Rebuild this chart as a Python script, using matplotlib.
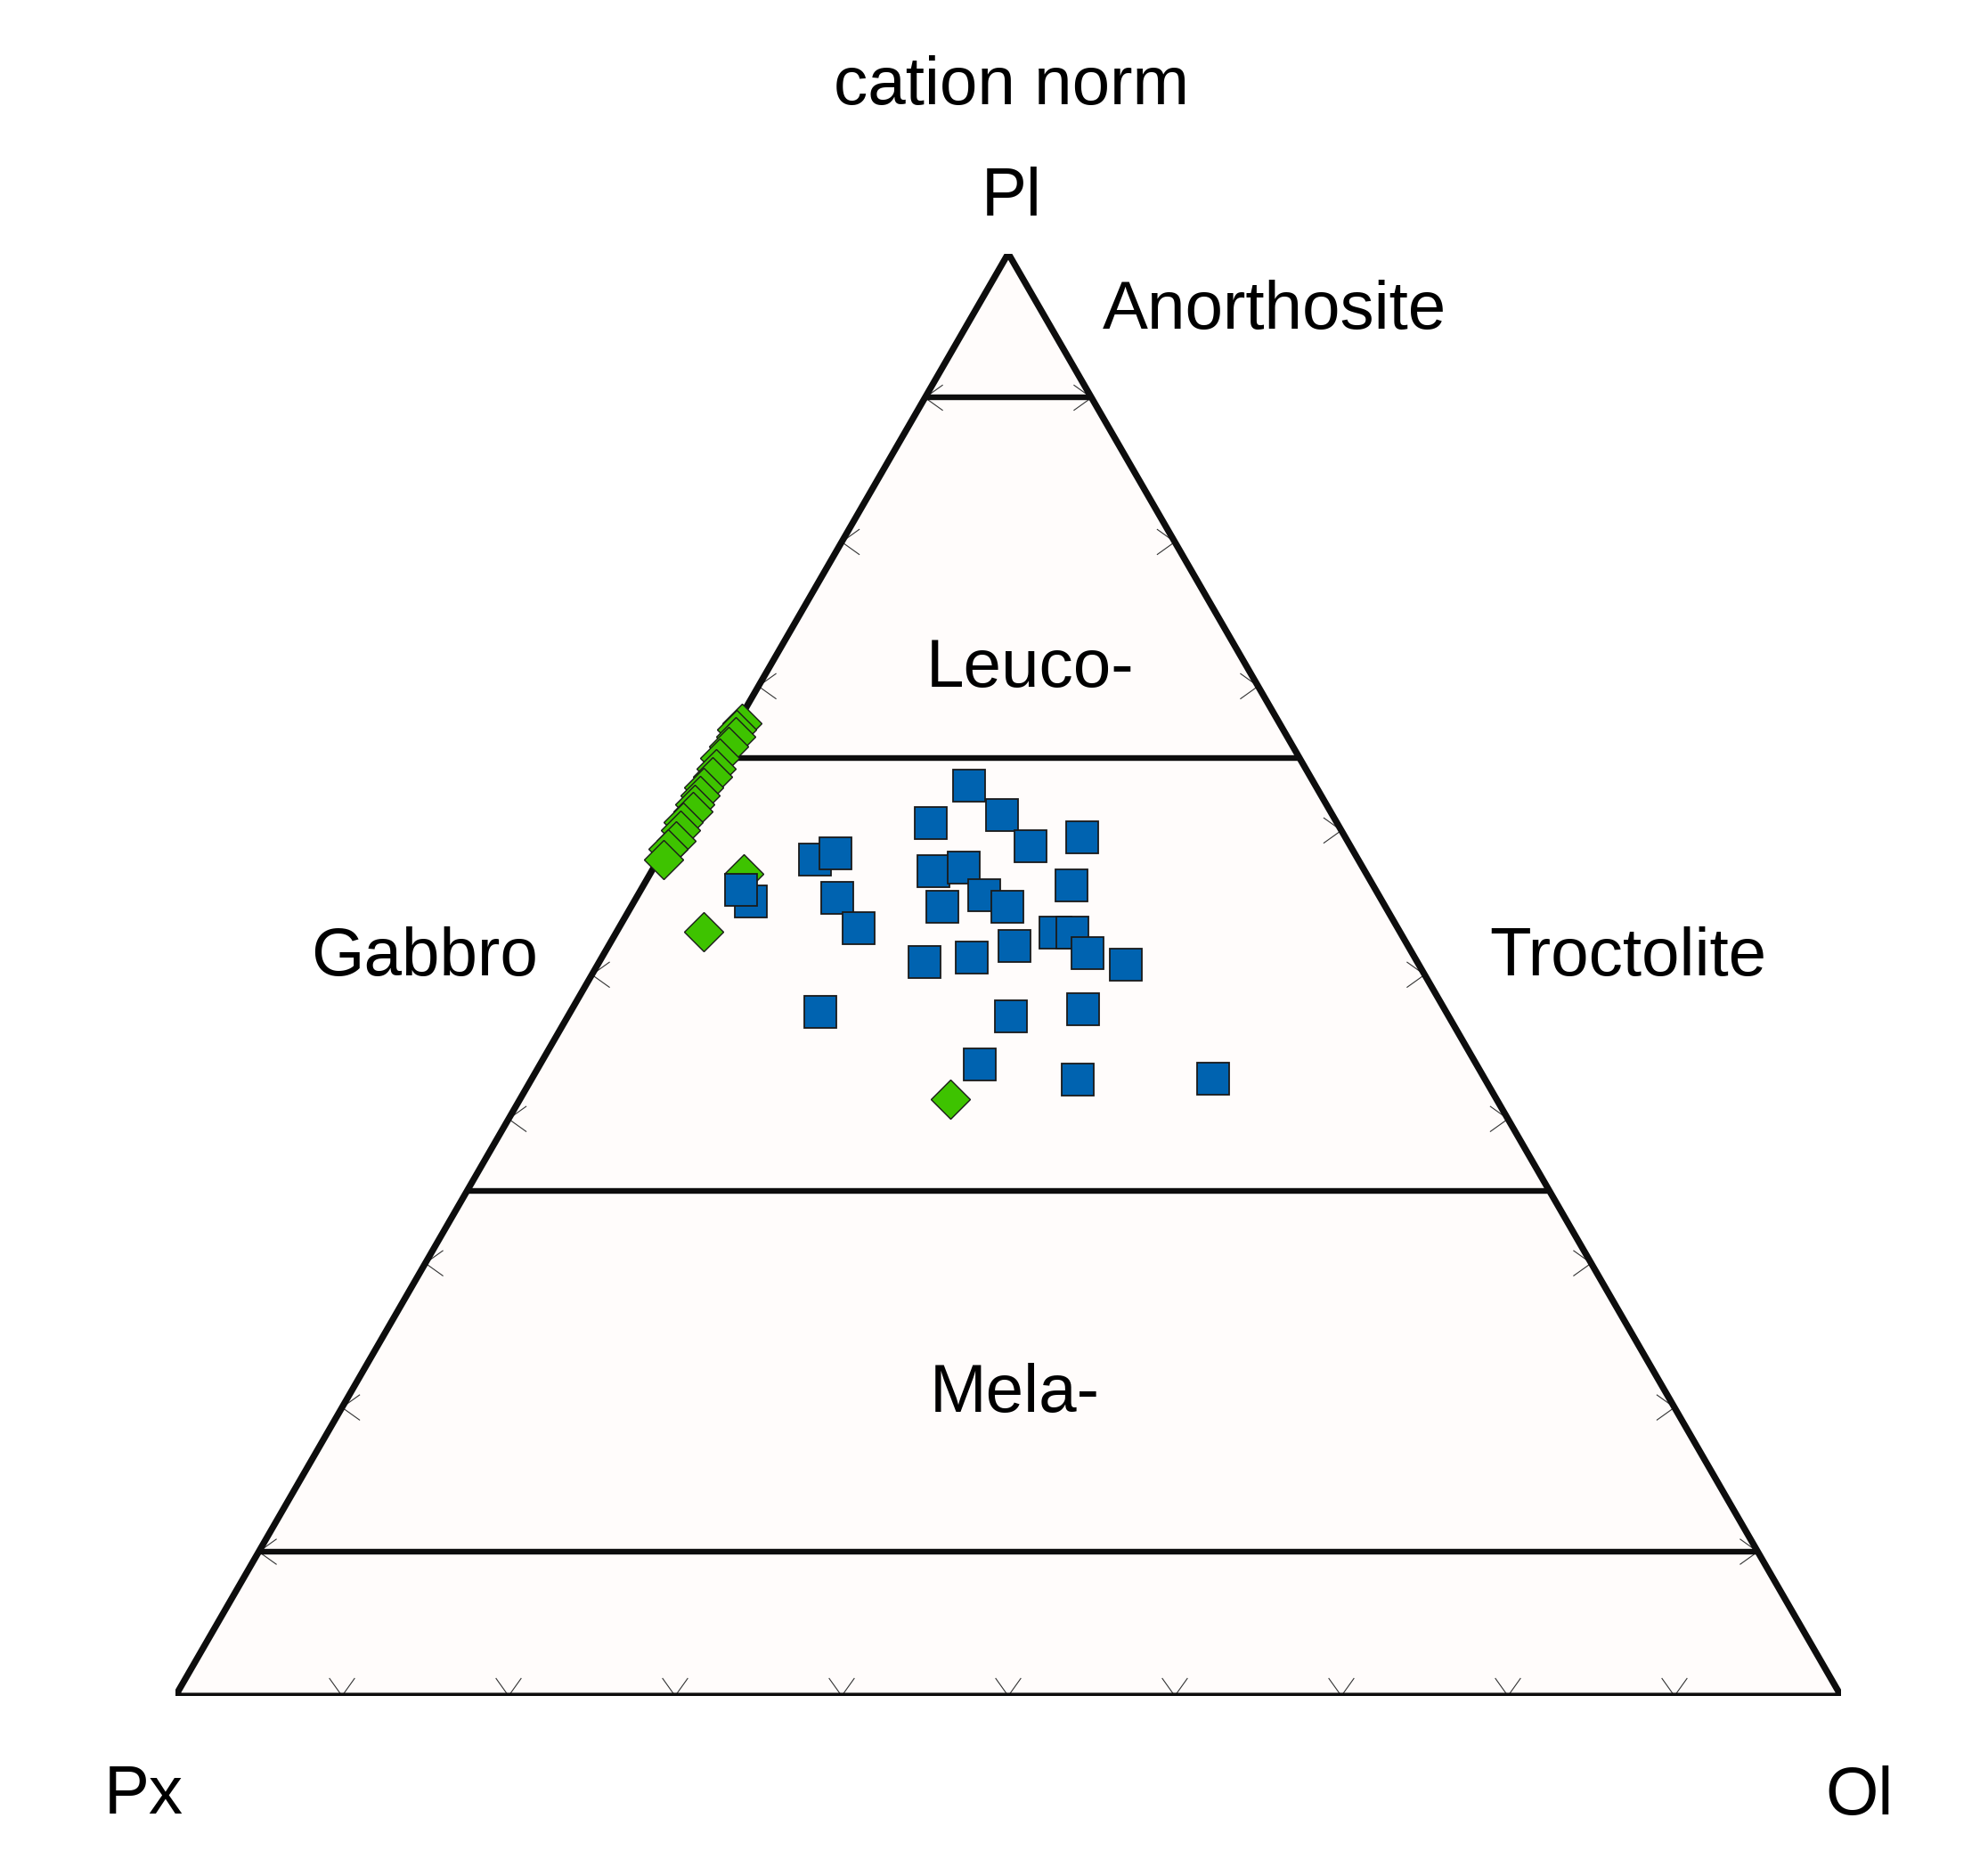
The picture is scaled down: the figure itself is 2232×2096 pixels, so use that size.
import matplotlib.pyplot as plt
import numpy as np

plt.rcParams['font.family'] = ['Liberation Sans', 'DejaVu Sans']

# cation norm, percent Pl and Ol (Px = 100 - Pl - Ol)
blue_pl = [63.1, 60.5, 61.1, 58.9, 59.5, 57.2, 57.4, 56.2, 54.7, 55.5,
           54.7, 52.9, 52.9, 51.5, 50.7, 50.9, 51.2, 52.0, 47.1, 47.6,
           43.8, 42.7, 42.8, 55.1, 55.9, 58.0, 58.4, 55.3, 53.2, 47.4]
blue_ol = [16.1, 15.1, 19.1, 21.9, 24.7, 16.9, 18.6, 25.7, 18.7, 20.8,
           22.6, 26.4, 27.4, 29.0, 31.7, 19.5, 22.2, 24.4, 26.6, 30.7,
           26.4, 32.8, 40.9, 7.0, 6.0, 9.4, 10.4, 12.1, 14.4, 15.0]

green_pl = [67.4, 67.0, 66.5, 65.8, 65.0, 64.3, 63.7, 63.0, 62.4, 61.8,
            61.3, 60.6, 60.0, 59.3, 58.7, 58.0, 57.0, 53.0, 41.4]
green_ol = [0.3, 0.2, 0.4, 0.3, 0.2, 0.3, 0.4, 0.2, 0.3, 0.3,
            0.4, 0.2, 0.3, 0.4, 0.2, 0.3, 5.6, 5.2, 25.8]

class_levels = [90, 65, 35, 10]
tick_levels = [10, 20, 30, 40, 50, 60, 70, 80, 90]

H = np.sqrt(3) / 2


def tern(pl, ol):
    pl = np.asarray(pl, dtype=float) / 100.0
    ol = np.asarray(ol, dtype=float) / 100.0
    return ol + pl / 2, pl * H


W, Hpx = 2232, 2096
fig = plt.figure(figsize=(W / 100, Hpx / 100), dpi=100)
fig.patch.set_facecolor('white')

left_px, base_px, width_px = 197, 1904, 1870
ax = fig.add_axes([left_px / W, (Hpx - base_px) / Hpx,
                   width_px / W, width_px * H / Hpx])
ax.set_xlim(0, 1)
ax.set_ylim(0, H)
ax.axis('off')

# triangle
cx, cy = tern([0, 0, 100, 0], [0, 100, 0, 0])
ax.fill(cx, cy, color='#fffcfb', zorder=0)
ax.plot(cx, cy, color='#0d0d0d', lw=5.2, solid_joinstyle='miter', zorder=2)

# class boundaries
for lv in class_levels:
    xs, ys = tern([lv, lv], [0, 100 - lv])
    ax.plot(xs, ys, color='#0d0d0d', lw=4.6, solid_capstyle='butt', zorder=2)

# ticks
a, b = 0.0105, 0.0075
for t in tick_levels:
    bx, by = tern(0, t)
    ax.plot([bx - b, bx, bx + b], [by + a, by, by + a], color='#333333', lw=0.8, zorder=1)
    lx, ly = tern(t, 0)
    ax.plot([lx + a, lx, lx + a], [ly + b, ly, ly - b], color='#333333', lw=0.8, zorder=1)
    rx, ry = tern(t, 100 - t)
    ax.plot([rx - a, rx, rx - a], [ry + b, ry, ry - b], color='#333333', lw=0.8, zorder=1)

# data
gx, gy = tern(green_pl, green_ol)
for x, y in zip(gx, gy):
    ax.plot(x, y, marker='D', ms=22, mfc='#3ec300', mec='#1a1a1a', mew=1.0,
            zorder=3, clip_on=False)
sx, sy = tern(blue_pl, blue_ol)
for x, y in zip(sx, sy):
    ax.plot(x, y, marker='s', ms=26.5, mfc='#0063b0', mec='#1a1a1a', mew=1.3,
            zorder=4, clip_on=False)

fs = 55
dy = 6  # small downward nudge of labels, in pixels
labels = [
    (1136, 92, 'cation norm', 'center'),
    (1136, 216, 'Pl', 'center'),
    (1238, 344, 'Anorthosite', 'left'),
    (1157, 746, 'Leuco-', 'center'),
    (477, 1069, 'Gabbro', 'center'),
    (1828, 1069, 'Troctolite', 'center'),
    (1139, 1559, 'Mela-', 'center'),
    (161, 2011, 'Px', 'center'),
    (2088, 2011, 'Ol', 'center'),
]
for px, py, txt, ha in labels:
    fig.text(px / W, 1 - (py + dy) / Hpx, txt, fontsize=fs, ha=ha, va='center')

fig.savefig('out.png', dpi=100, facecolor='white')
